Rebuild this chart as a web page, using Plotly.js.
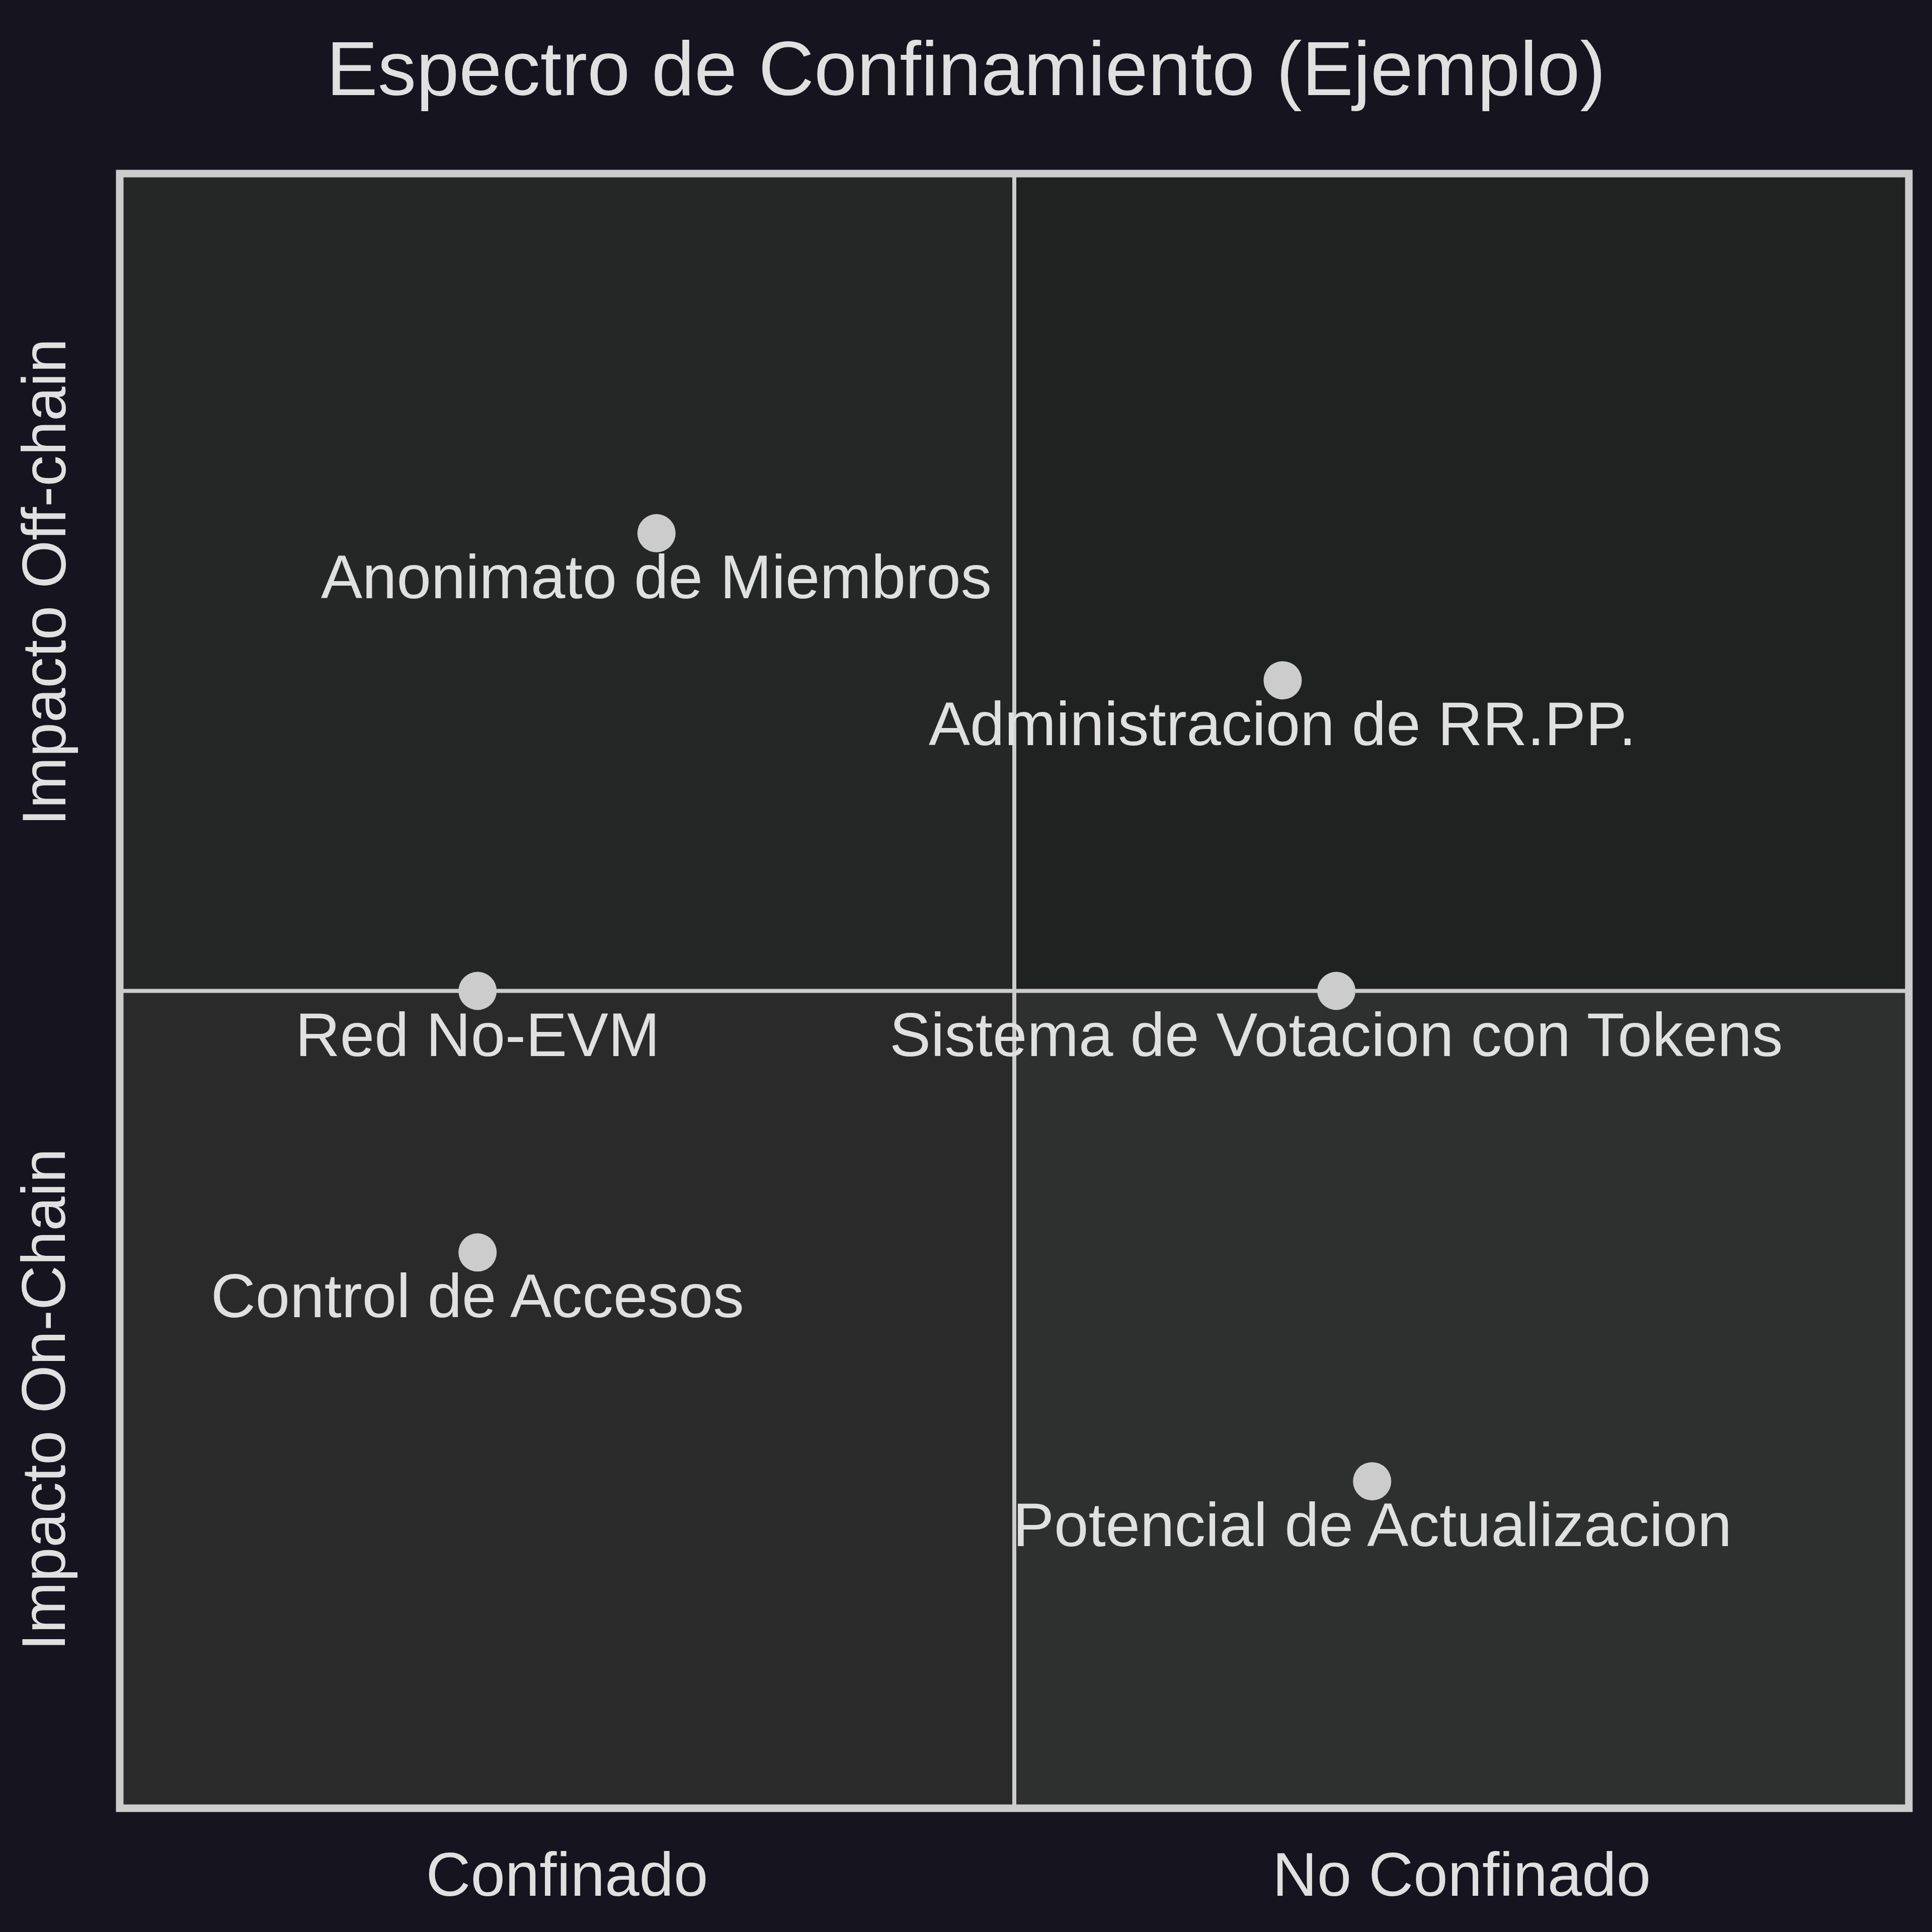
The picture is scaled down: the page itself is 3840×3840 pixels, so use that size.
<!DOCTYPE html>
<html>
<head>
<meta charset="utf-8">
<script src="https://cdn.plot.ly/plotly-3.0.1.min.js"></script>
<style>html,body{margin:0;padding:0;background:#16151f;}</style>
</head>
<body>
<div id="chart" style="width:3840px;height:3840px;"></div>
<script>
const pointNames = ["Anonimato de Miembros", "Administracion de RR.PP.", "Red No-EVM", "Sistema de Votacion con Tokens", "Control de Accesos", "Potencial de Actualizacion"];
const pointX = [0.30, 0.65, 0.20, 0.68, 0.20, 0.70];
const pointY = [0.78, 0.69, 0.50, 0.50, 0.34, 0.20];
const xTickVals = [0.25, 0.75];
const xTickText = ["Confinado", "No Confinado"];
const yLabelVals = [0.25, 0.75];
const yLabelText = ["Impacto On-Chain", "Impacto Off-chain"];
const quadX0 = [0, 0.5, 0, 0.5];
const quadY0 = [0.5, 0.5, 0, 0];
const quadColors = ["#252726", "#202221", "#292a29", "#2e302f"];

const FONT = "Liberation Sans, Arial, Helvetica, sans-serif";
const TXT = "#e0e0e0";
const LINE = "#cccccc";

const shapes = [];
for (let i = 0; i < 4; i++) {
  shapes.push({type: "rect", xref: "x", yref: "y", x0: quadX0[i], x1: quadX0[i] + 0.5, y0: quadY0[i], y1: quadY0[i] + 0.5,
    fillcolor: quadColors[i], line: {width: 0}, layer: "below"});
}
shapes.push({type: "line", xref: "x", yref: "y", x0: 0.5, x1: 0.5, y0: 0, y1: 1, line: {color: LINE, width: 8}, layer: "below"});
shapes.push({type: "line", xref: "x", yref: "y", x0: 0, x1: 1, y0: 0.5, y1: 0.5, line: {color: LINE, width: 8}, layer: "below"});
shapes.push({type: "rect", xref: "paper", yref: "paper", x0: 0, x1: 1, y0: 0, y1: 1, line: {color: LINE, width: 15}, fillcolor: "rgba(0,0,0,0)", layer: "above"});

const annotations = pointNames.map((n, i) => ({
  x: pointX[i], y: pointY[i], xref: "x", yref: "y", text: n, showarrow: false,
  xanchor: "center", yanchor: "top", yshift: -16,
  font: {family: FONT, size: 123, color: TXT}
}));
yLabelText.forEach((t, i) => annotations.push({
  x: 0, y: yLabelVals[i], xref: "paper", yref: "y", text: t, showarrow: false, textangle: -90,
  xanchor: "center", yanchor: "middle", xshift: -151,
  font: {family: FONT, size: 123, color: TXT}
}));

const trace = {
  type: "scatter", mode: "markers", x: pointX, y: pointY, text: pointNames,
  marker: {size: 76, color: LINE, line: {width: 0}},
  hoverinfo: "text", cliponaxis: false
};

const layout = {
  width: 3840, height: 3840,
  paper_bgcolor: "#16151f", plot_bgcolor: "rgba(0,0,0,0)",
  margin: {l: 238, r: 46, t: 345, b: 246, pad: 0},
  showlegend: false,
  title: {text: "Espectro de Confinamiento (Ejemplo)", x: 0.5, xanchor: "center", xref: "container",
    y: 1 - 135 / 3840, yref: "container", yanchor: "middle",
    font: {family: FONT, size: 153, color: TXT}},
  xaxis: {range: [0, 1], showgrid: false, zeroline: false, showline: false, ticks: "",
    tickvals: xTickVals, ticktext: xTickText, ticklabelstandoff: 50,
    tickfont: {family: FONT, size: 123, color: TXT}, fixedrange: true},
  yaxis: {range: [0, 1], showgrid: false, zeroline: false, showline: false, ticks: "",
    showticklabels: false, fixedrange: true},
  shapes: shapes,
  annotations: annotations
};

Plotly.newPlot("chart", [trace], layout, {displayModeBar: false, staticPlot: true});
</script>
</body>
</html>
